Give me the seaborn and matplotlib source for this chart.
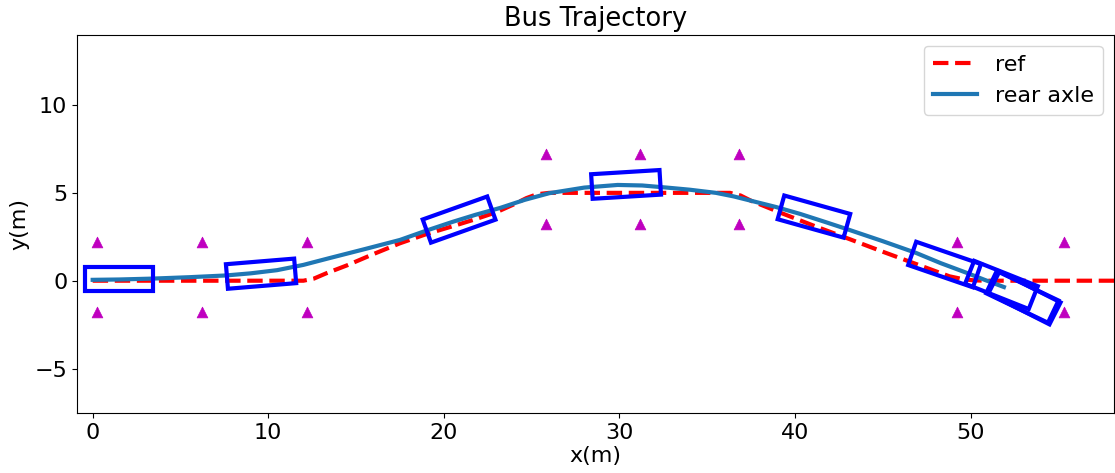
import numpy as np
import seaborn as sns
import matplotlib.pyplot as plt
from matplotlib.patches import Polygon

# reference path (dashed)
ref_x = [0, 12, 12.6, 13.3, 14.5, 16.0, 17.5, 19.0, 20.5, 21.8, 23.0, 24.0, 24.7, 25.3, 26.0,
         36.3, 36.9, 37.5, 39.3, 41.2, 43.1, 45.0, 46.9, 48.8, 49.6, 50.2, 50.8, 60]
ref_y = [0, 0, 0.12, 0.42, 0.88, 1.52, 2.13, 2.65, 3.1, 3.5, 3.9, 4.35, 4.7, 4.92, 5.0,
         5.0, 4.85, 4.55, 3.82, 3.08, 2.37, 1.65, 0.95, 0.25, 0.08, 0.02, 0, 0]

# rear axle trajectory
axle_x = [0, 1.5, 3.4, 5.5, 7.6, 9.0, 10.5, 12.0, 13.5, 15.5, 17.5, 19.0, 20.5, 21.8, 23.2,
          24.6, 26.0, 28.0, 29.9, 31.3, 32.7, 34.0, 35.5, 36.5, 37.5, 38.9, 40.3, 41.7,
          43.1, 45.0, 46.9, 48.3, 49.8, 50.8, 51.9]
axle_y = [0.05, 0.07, 0.12, 0.2, 0.3, 0.42, 0.6, 0.9, 1.29, 1.8, 2.32, 2.85, 3.35, 3.75, 4.14,
          4.6, 4.98, 5.3, 5.45, 5.42, 5.3, 5.18, 5.0, 4.8, 4.55, 4.2, 3.8, 3.35,
          2.89, 2.25, 1.58, 1.0, 0.44, 0.05, -0.36]

# obstacles
obs_x = [0.23, 6.2, 12.2, 25.8, 31.2, 36.8, 49.2, 55.3,
         0.23, 6.2, 12.2, 25.8, 31.2, 36.8, 49.2, 55.3]
obs_y = [2.2, 2.2, 2.2, 7.2, 7.2, 7.2, 2.2, 2.2,
         -1.8, -1.8, -1.8, 3.2, 3.2, 3.2, -1.8, -1.8]

# bus body snapshots: centre x, centre y, heading (deg)
bus_cx = [1.5, 9.59, 20.87, 30.38, 41.08, 48.52, 51.76, 53.07, 52.95]
bus_cy = [0.09, 0.40, 3.48, 5.48, 3.65, 0.92, -0.24, -0.98, -0.92]
bus_yaw = [0, 4.7, 19.6, 3.5, -15.6, -19.0, -21.7, -26.8, -25.5]
bus_len = 3.9
bus_wid = 1.4

fig = plt.figure(figsize=(11.15, 4.73), dpi=100)
ax = fig.add_axes([0.0691, 0.1268, 0.9300, 0.7998])

sns.lineplot(x=ref_x, y=ref_y, sort=False, estimator=None, ax=ax,
             color='r', linestyle='--', linewidth=3, label='ref')
sns.lineplot(x=axle_x, y=axle_y, sort=False, estimator=None, ax=ax,
             color='tab:blue', linewidth=3, label='rear axle')
sns.scatterplot(x=obs_x, y=obs_y, marker='^', color='m', s=60,
                edgecolor='m', linewidth=0.5, ax=ax, zorder=3)

for cx, cy, yaw in zip(bus_cx, bus_cy, bus_yaw):
    t = np.deg2rad(yaw)
    c, s = np.cos(t), np.sin(t)
    local = np.array([[-bus_len / 2, -bus_wid / 2], [bus_len / 2, -bus_wid / 2],
                      [bus_len / 2, bus_wid / 2], [-bus_len / 2, bus_wid / 2]])
    pts = local @ np.array([[c, s], [-s, c]]) + [cx, cy]
    ax.add_patch(Polygon(pts, closed=True, fill=False, edgecolor='b', linewidth=3, zorder=4))

ax.set_xlim(-0.89, 58.17)
ax.set_ylim(-7.53, 14.0)
ax.set_xticks([0, 10, 20, 30, 40, 50])
ax.set_yticks([-5, 0, 5, 10])
ax.tick_params(labelsize=16)
ax.set_xlabel('x(m)', fontsize=16, labelpad=2)
ax.set_ylabel('y(m)', fontsize=16)
ax.set_title('Bus Trajectory', fontsize=18.5)
ax.legend(loc='upper right', fontsize=16)

fig.savefig('out.png', dpi=100)
